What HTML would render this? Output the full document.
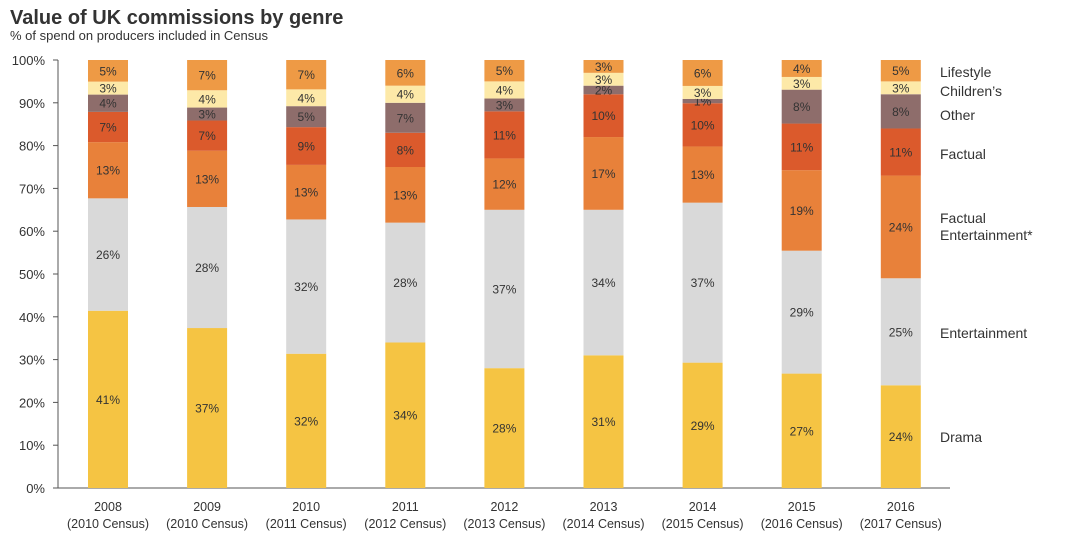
<!DOCTYPE html>
<html><head><meta charset="utf-8"><style>
body{margin:0;background:#fff;font-family:"Liberation Sans",sans-serif;}
svg text{font-family:"Liberation Sans",sans-serif;}
</style></head><body>
<svg id="c" width="1080" height="546">
<text x="10" y="24" font-size="20" font-weight="bold" fill="#333">Value of UK commissions by genre</text>
<text x="10" y="40" font-size="13" fill="#333">% of spend on producers included in Census</text>
</svg>
<script>
const years=["2008","2009","2010","2011","2012","2013","2014","2015","2016"];
const censuses=["(2010 Census)","(2010 Census)","(2011 Census)","(2012 Census)","(2013 Census)","(2014 Census)","(2015 Census)","(2016 Census)","(2017 Census)"];
const drama=[41,37,32,34,28,31,29,27,24];
const entertainment=[26,28,32,28,37,34,37,29,25];
const factualEnt=[13,13,13,13,12,17,13,19,24];
const factual=[7,7,9,8,11,10,10,11,11];
const other=[4,3,5,7,3,2,1,8,8];
const childrens=[3,4,4,4,4,3,3,3,3];
const lifestyle=[5,7,7,6,5,3,6,4,5];
const yTicks=[0,10,20,30,40,50,60,70,80,90,100];
const series=[
 {name:"Drama",d:drama,c:"#F5C443",ly:442},
 {name:"Entertainment",d:entertainment,c:"#D9D9D9",ly:338},
 {name:"Factual Entertainment*",d:factualEnt,c:"#E8813A",ly:223},
 {name:"Factual",d:factual,c:"#DB5A2C",ly:159},
 {name:"Other",d:other,c:"#8E6D6B",ly:120},
 {name:"Children’s",d:childrens,c:"#FDE9A8",ly:96},
 {name:"Lifestyle",d:lifestyle,c:"#EE9A45",ly:77}
];
const svg=document.getElementById('c');const NS="http://www.w3.org/2000/svg";
function mk(t,a,p){const e=document.createElementNS(NS,t);for(const k in a)e.setAttribute(k,a[k]);(p||svg).appendChild(e);return e;}
const y0=488,y1=60;
function yS(v){return y0-(y0-y1)*v/100;}
function xS(i){return 108+i*99.1;}
const bw=40;
mk('line',{x1:58,y1:y1,x2:58,y2:y0,stroke:'#555','stroke-width':1});
mk('line',{x1:58,y1:y0,x2:950,y2:y0,stroke:'#555','stroke-width':1});
yTicks.forEach(t=>{
 mk('line',{x1:53,y1:yS(t),x2:58,y2:yS(t),stroke:'#555'});
 const tx=mk('text',{x:45,y:yS(t)+5,'font-size':13,'text-anchor':'end',fill:'#333'});
 tx.textContent=t+'%';
 
 
});
years.forEach((yr,i)=>{
 const tot=series.reduce((s,se)=>s+se.d[i],0);
 let acc=0;
 series.forEach(se=>{
  const v=se.d[i];const a=acc/tot*100,b=(acc+v)/tot*100;acc+=v;
  const r=mk('rect',{x:xS(i)-bw/2,y:yS(b),width:bw,height:yS(a)-yS(b),fill:se.c});
  
  
  const t=mk('text',{x:xS(i),y:(yS(a)+yS(b))/2+4.5,'font-size':12,'text-anchor':'middle',fill:'#333'});
  t.textContent=v+'%';
  
  
 });
 const l1=mk('text',{x:xS(i),y:511,'font-size':12.5,'text-anchor':'middle',fill:'#333'});l1.textContent=yr;
 
 
 const l2=mk('text',{x:xS(i),y:528,'font-size':12.5,'text-anchor':'middle',fill:'#333'});l2.textContent=censuses[i];
 
 
});
series.forEach(se=>{
 const parts=se.name==="Factual Entertainment*"?["Factual","Entertainment*"]:[se.name];
 parts.forEach((p,j)=>{
  const t=mk('text',{x:940,y:se.ly+j*17,'font-size':14,fill:'#333'});t.textContent=p;
  
  
 });
});
</script>
</body></html>
